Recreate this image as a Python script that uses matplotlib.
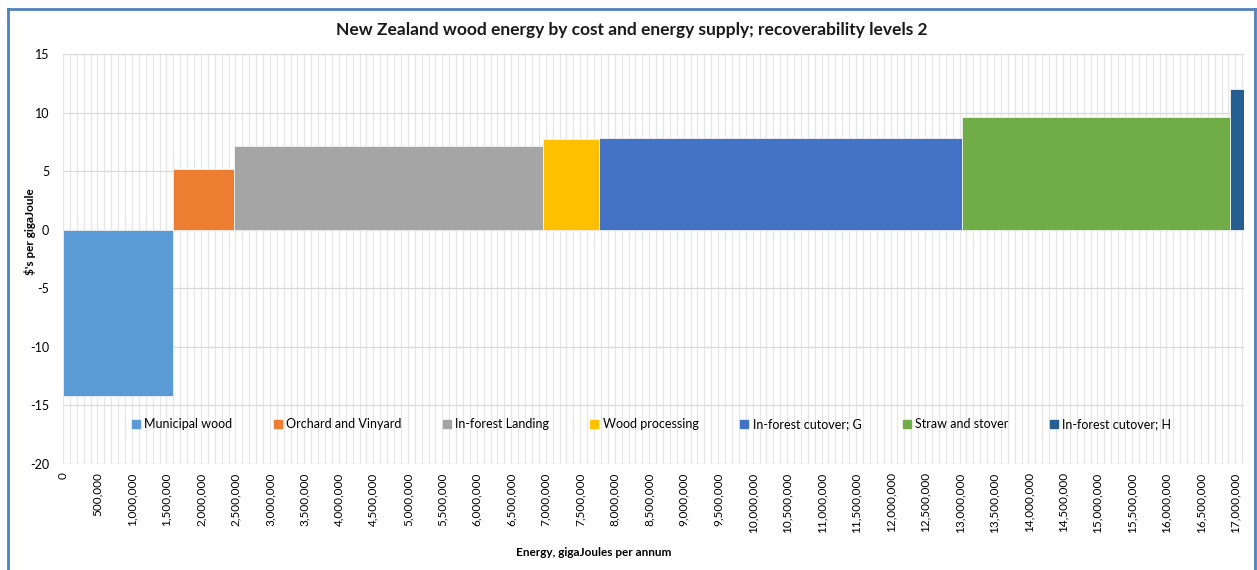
import numpy as np
import matplotlib
matplotlib.use("Agg")
import matplotlib.pyplot as plt
from matplotlib.lines import Line2D

# ---- data ----
categories = ["Municipal wood", "Orchard and Vinyard", "In-forest Landing",
              "Wood processing", "In-forest cutover; G", "Straw and stover",
              "In-forest cutover; H"]
energy_gj = [1590000, 895000, 4480000, 800000, 5270000, 3890000, 200000]
cost_per_gj = [-14.2, 5.2, 7.15, 7.78, 7.82, 9.64, 12.0]
colors = ["#5b9bd5", "#ed7d31", "#a5a5a5", "#ffc000", "#4472c4", "#70ad47", "#255e91"]
x_ticks = list(range(0, 17000001, 500000))
y_ticks = [-20, -15, -10, -5, 0, 5, 10, 15]

plt.rcParams['font.family'] = ['Lato', 'DejaVu Sans']

fig = plt.figure(figsize=(12.57, 5.70), dpi=100)
ax = fig.add_axes([63/1257, 1-464/570, (1244-63)/1257, (464-54)/570])

lefts = np.concatenate([[0], np.cumsum(energy_gj)[:-1]])
for l, w, c, col, name in zip(lefts, energy_gj, cost_per_gj, colors, categories):
    ax.bar(l, c, width=w, align='edge', color=col, edgecolor='#f2f2f2',
           linewidth=0.6, zorder=3, label=name)

ax.set_xlim(0, float(np.sum(energy_gj)))
ax.set_ylim(-20, 15)
ax.set_yticks(y_ticks)
ax.set_yticklabels([str(v) for v in y_ticks], fontsize=9)
ax.set_xticks(x_ticks)
ax.set_xticklabels([f"{v:,}" for v in x_ticks], rotation=90, fontsize=8.5,
                   va='top', ha='center')
ax.set_xticks(np.arange(0, 17100001, 100000), minor=True)
ax.tick_params(axis='both', which='both', length=0, pad=6)
ax.tick_params(axis='y', pad=10)
for s in ax.spines.values():
    s.set_visible(False)
ax.grid(True, which='minor', axis='x', color='#e6e6e6', linewidth=0.9, zorder=0)
ax.grid(True, which='major', axis='x', color='#e6e6e6', linewidth=0.9, zorder=0)
ax.grid(True, which='major', axis='y', color='#d9d9d9', linewidth=0.9, zorder=0)
ax.set_axisbelow(True)

# legend
handles = [Line2D([0], [0], marker='s', linestyle='none', markersize=6,
                  markerfacecolor=c, markeredgecolor=c) for c in colors]
leg = ax.legend(handles, categories, ncol=7, loc='center',
                bbox_to_anchor=((651 - 63) / (1244 - 63), 1 - (424 - 54) / (464 - 54)),
                frameon=False, fontsize=9, handletextpad=0.3,
                columnspacing=3.2, handlelength=0.8)

fig.text(632/1257, 1-30/570, "New Zealand wood energy by cost and energy supply; recoverability levels 2",
         ha='center', va='center', fontsize=12.5, fontweight='bold', color='#1a1a1a')
fig.text(30/1257, 1-232/570, "$'s per gigaJoule", rotation=90, ha='center', va='center',
         fontsize=8.5, fontweight='bold')
fig.text(594/1257, 1-553/570, "Energy, gigaJoules per annum", ha='center', va='center',
         fontsize=8.5, fontweight='bold')

# outer chart border
bc = '#4f81bd'
fig.add_artist(Line2D([8/1257, 8/1257], [0, 1-9/570], color=bc, lw=2, transform=fig.transFigure))
fig.add_artist(Line2D([8/1257, 1255/1257], [1-9/570, 1-9/570], color=bc, lw=2, transform=fig.transFigure))
fig.add_artist(Line2D([1255/1257, 1255/1257], [0, 1-9/570], color=bc, lw=2, transform=fig.transFigure))

fig.savefig("out.png", dpi=100)
